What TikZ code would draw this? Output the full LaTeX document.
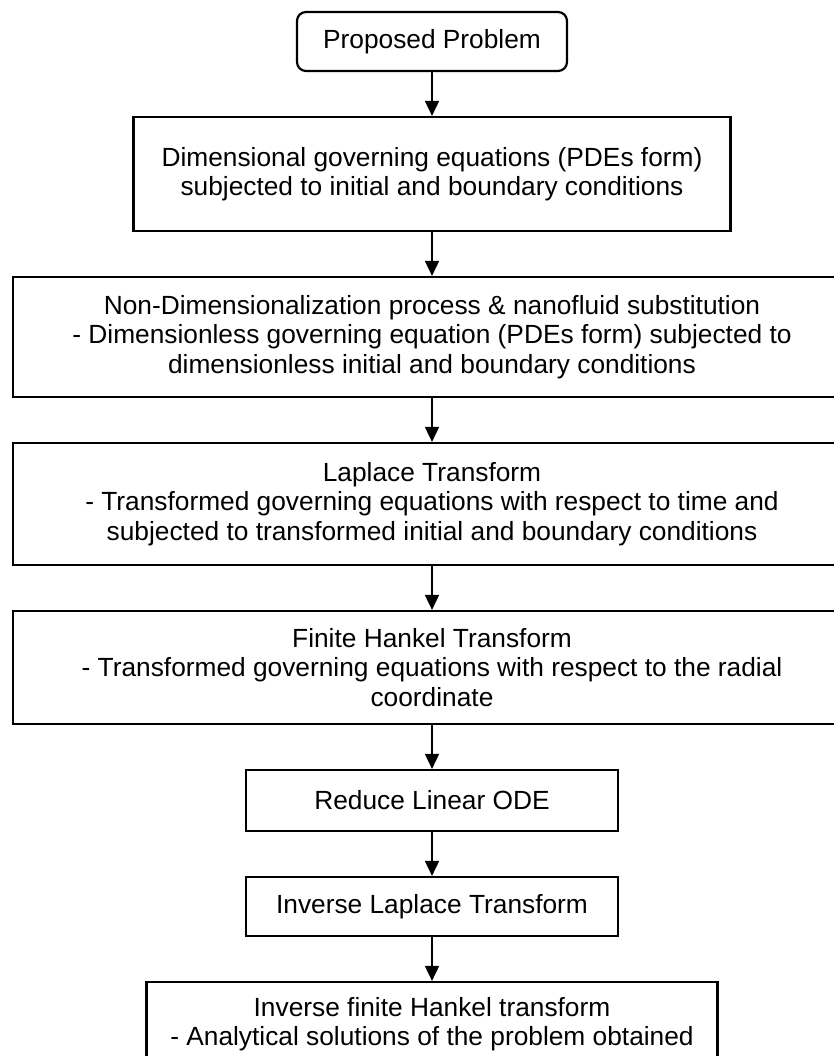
\documentclass[tikz,border=0pt]{standalone}
\usepackage{fontspec}
\setmainfont{Liberation Sans}
\usetikzlibrary{arrows.meta}
\usetikzlibrary{positioning}

\tikzset{
  stepbox/.style={draw, rectangle, line width=2.2pt, align=center, inner sep=0pt,
    font=\fontsize{26.3}{29.5}\selectfont},
  startbox/.style={stepbox, rounded corners=9pt},
  flow/.style={-{Triangle[length=15pt,width=14pt]}, line width=1.8pt}
}

\begin{document}
\begin{tikzpicture}[x=1pt,y=1pt,node distance=43.8pt]
  \useasboundingbox (0,0) rectangle (834,-1056);
  \clip (0,0) rectangle (834,-1056);

  \node[startbox, minimum width=270pt, minimum height=59pt] (prob) at (432,-41.5) {Proposed Problem};
  \node[stepbox, minimum width=597pt, minimum height=114pt] (dimeq) [below=of prob]
    {Dimensional governing equations (PDEs form)\\subjected to initial and boundary conditions};
  \node[stepbox, minimum width=838pt, minimum height=120pt] (nondim) [below=of dimeq]
    {Non-Dimensionalization process \& nanofluid substitution\\- Dimensionless governing equation (PDEs form) subjected to\\dimensionless initial and boundary conditions};
  \node[stepbox, minimum width=838pt, minimum height=122pt] (laplace) [below=of nondim]
    {Laplace Transform\\- Transformed governing equations with respect to time and\\subjected to transformed initial and boundary conditions};
  \node[stepbox, minimum width=838pt, minimum height=113pt] (hankel) [below=of laplace]
    {Finite Hankel Transform\\- Transformed governing equations with respect to the radial\\coordinate};
  \node[stepbox, minimum width=372pt, minimum height=61pt] (ode) [below=of hankel] {Reduce Linear ODE};
  \node[stepbox, minimum width=372pt, minimum height=59pt] (invlap) [below=of ode] {Inverse Laplace Transform};
  \node[stepbox, minimum width=571pt, minimum height=84pt] (invhank) [below=of invlap]
    {Inverse finite Hankel transform\\- Analytical solutions of the problem obtained};

  \path[flow]
    (prob) edge (dimeq)
    (dimeq) edge (nondim)
    (nondim) edge (laplace)
    (laplace) edge (hankel)
    (hankel) edge (ode)
    (ode) edge (invlap)
    (invlap) edge (invhank);
\end{tikzpicture}
\end{document}
